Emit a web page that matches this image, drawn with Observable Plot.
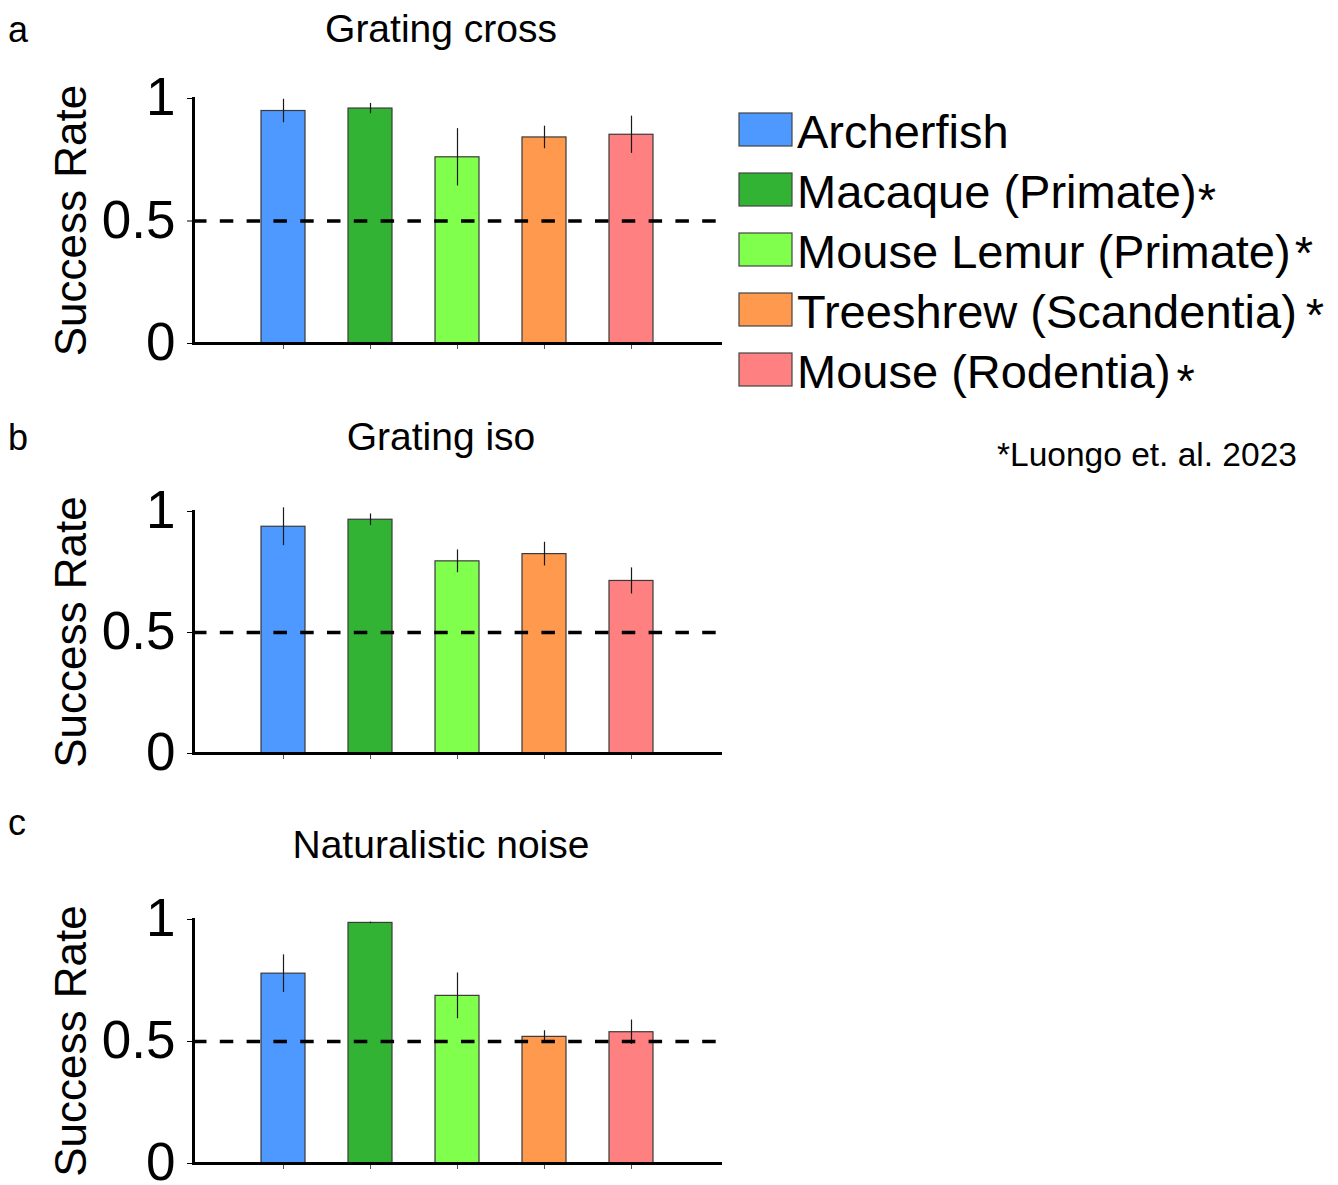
<!DOCTYPE html>
<html><head><meta charset="utf-8">
<script src="https://cdn.jsdelivr.net/npm/d3@7"></script>
<script src="https://cdn.jsdelivr.net/npm/@observablehq/plot@0.6"></script>
<style>
html,body{margin:0;padding:0;background:#fff;overflow:hidden}
#root{position:relative;width:1338px;height:1185px;overflow:hidden;font-family:"Liberation Sans",Arial,sans-serif;}
.panel{position:absolute;left:0}
#overlay{position:absolute;left:0;top:0}
</style></head><body><div id="root"></div>
<script>
const species = ["Archerfish","Macaque (Primate)","Mouse Lemur (Primate)","Treeshrew (Scandentia)","Mouse (Rodentia)"];
const cited = [false,true,true,true,true];
const colors = ["#4d99ff","#33b333","#80ff4d","#ff994d","#ff8080"];
const panelLetters = ["a","b","c"];
const panelTitles = ["Grating cross","Grating iso","Naturalistic noise"];
const gratingCrossRate = [0.949,0.959,0.760,0.841,0.852];
const gratingCrossErr  = [0.048,0.021,0.117,0.046,0.076];
const gratingIsoRate   = [0.937,0.966,0.794,0.824,0.713];
const gratingIsoErr    = [0.078,0.024,0.047,0.049,0.054];
const naturalNoiseRate = [0.778,0.986,0.687,0.519,0.538];
const naturalNoiseErr  = [0.077,0.003,0.094,0.025,0.050];
const yTicks = [0,0.5,1];
const yTickLabels = ["0","0.5","1"];
const chanceLevel = 0.5;
const yLabel = "Success Rate";
const footnote = "*Luongo et. al. 2023";

const FONT = '"Liberation Sans", Arial, sans-serif';
const root = document.getElementById("root");

const MT = 20, MB = 15;
const panels = [
  {rate: gratingCrossRate, err: gratingCrossErr, top: 78, inner: 245},
  {rate: gratingIsoRate, err: gratingIsoErr, top: 491, inner: 242},
  {rate: naturalNoiseRate, err: naturalNoiseErr, top: 899, inner: 244}
];

panels.forEach((p, pi) => {
  const rows = species.map((s, i) => ({species: s, rate: p.rate[i], err: p.err[i]}));
  const chart = Plot.plot({
    width: 740, height: MT + p.inner + MB,
    marginLeft: 193, marginRight: 20, marginTop: MT, marginBottom: MB,
    style: {fontFamily: FONT, background: "transparent", overflow: "visible", color: "#000"},
    x: {type: "band", domain: species, paddingInner: 0.5, paddingOuter: 0.75},
    y: {domain: [0, 1]},
    color: {domain: species, range: colors},
    marks: [
      Plot.barY(rows, {x: "species", y: "rate", fill: "species", stroke: "#3a3a3a", strokeWidth: 1.2}),
      Plot.ruleX(rows, {x: "species", y1: d => d.rate - d.err, y2: d => d.rate + d.err, stroke: "#1a1a1a", strokeWidth: 1.2}),
      Plot.ruleY([chanceLevel], {stroke: "#000", strokeWidth: 3.6, strokeDasharray: "13.5,13.3"}),
      Plot.axisX({tickSize: 6, tickFormat: () => "", label: null, stroke: "#555"}),
      Plot.axisY({ticks: yTicks, tickFormat: d => yTickLabels[yTicks.indexOf(d)], tickSize: 6, tickPadding: 12, fontSize: 53, label: null, stroke: "#000", fill: "#000"}),
      Plot.frame({anchor: "left", strokeWidth: 3, stroke: "#000", strokeLinecap: "square"}),
      Plot.frame({anchor: "bottom", strokeWidth: 3, stroke: "#000", strokeLinecap: "square"})
    ]
  });
  chart.classList.add("panel");
  chart.style.top = p.top + "px";
  root.appendChild(chart);
});

// overlay: panel letters, titles, axis labels, legend, footnote
const svg = d3.select(root).append("svg")
  .attr("id", "overlay").attr("width", 1338).attr("height", 1185)
  .style("font-family", FONT).style("pointer-events", "none");

const letterBase = [42, 450, 835];
const titleBase = [42, 450, 858];
panelLetters.forEach((l, i) => {
  svg.append("text").attr("x", 8).attr("y", letterBase[i]).attr("font-size", 36).text(l);
  svg.append("text").attr("x", 441).attr("y", titleBase[i]).attr("font-size", 39)
    .attr("text-anchor", "middle").text(panelTitles[i]);
  const p = panels[i];
  const cy = p.top + MT + p.inner / 2;
  svg.append("text").attr("transform", `translate(71,${cy}) rotate(-90)`)
    .attr("text-anchor", "middle").attr("dy", "0.35em").attr("font-size", 44).text(yLabel);
});

const asterDx = [0, 1, 4, 9, 6];
const asterDy = [0, 8, 1, 3, 9];
species.forEach((s, i) => {
  svg.append("rect").attr("x", 739).attr("y", 113 + 60 * i).attr("width", 53).attr("height", 33)
    .attr("fill", colors[i]).attr("stroke", "#444").attr("stroke-width", 1.2);
  const t = svg.append("text").attr("x", 797).attr("y", 148 + 60 * i).attr("font-size", 47);
  t.append("tspan").text(s);
  if (cited[i]) t.append("tspan").attr("dx", asterDx[i]).attr("dy", asterDy[i]).text("*");
});

svg.append("text").attr("x", 997).attr("y", 466).attr("font-size", 33.5).text(footnote);
</script></body></html>
